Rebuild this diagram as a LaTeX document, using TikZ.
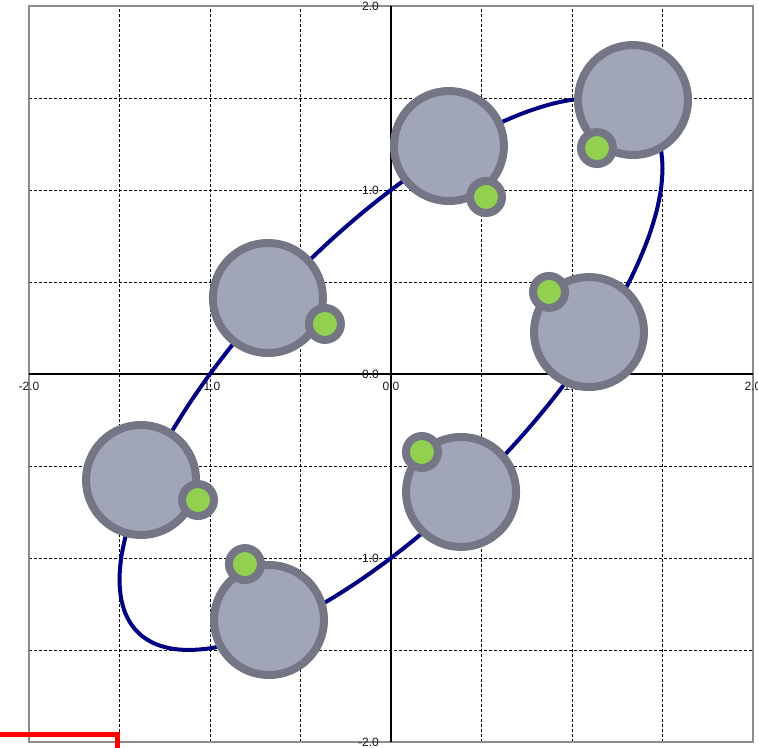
\documentclass[tikz,border=0pt]{standalone}
\usepackage{fontspec}
\setmainfont{Liberation Sans}
\definecolor{orbitblue}{RGB}{0, 0, 128}
\definecolor{bodyfill}{RGB}{161, 165, 184}
\definecolor{bodyrim}{RGB}{116, 118, 133}
\definecolor{moongreen}{RGB}{146, 208, 80}
\definecolor{framegray}{RGB}{140, 140, 140}
\usepackage{tikz}

\begin{document}
\begin{tikzpicture}[x=181pt, y=184pt, every node/.style={font=\fontsize{12}{12}\selectfont, text=black!90, inner sep=0pt}]
        \clip (-2.1602,-2.0272) rectangle (2.0276,2.0326);
        % dashed grid
        \foreach \v in {-1.5,-1,-0.5,0.5,1,1.5} {
          \draw[line width=0.9pt, dash pattern=on 3pt off 2pt] (\v,-2) -- (\v,2);
          \draw[line width=0.9pt, dash pattern=on 3pt off 2pt] (-2,\v) -- (2,\v);
        }
        % frame
        \draw[framegray, line width=2pt] (-2,-2) rectangle (2,2);
        % axes
        \draw[line width=1.8pt] (-2,0) -- (2,0);
        \draw[line width=2.8pt] (0,-2) -- (0,2);
        % tick labels
        \foreach \v [count=\i] in {-2.0,-1.0,0.0,1.0,2.0} {
          \node[anchor=north, yshift=-8pt] (xtick\i) at (\v,0) {\v};
          \node[anchor=east, xshift=-12pt] (ytick\i) at (0,\v) {\v};
        }
        % orbit
        \draw[orbitblue, line width=4pt] plot[smooth cycle, domain=0:354, samples=60] ({1.5*cos(\x)}, {1.5*cos(\x-41.81)});
        % bodies with their moons
        \foreach \bx/\by/\sx/\sy in {0.320/1.239/0.525/0.962, 1.337/1.489/1.138/1.228,
            -0.680/0.413/-0.365/0.272, 1.094/0.228/0.873/0.446,
            -1.381/-0.576/-1.066/-0.685, 0.387/-0.641/0.171/-0.424,
            -0.674/-1.337/-0.807/-1.033} {
          \draw[bodyrim, fill=bodyfill, line width=8pt] (\bx,\by) circle[radius=55pt];
          \draw[bodyrim, fill=moongreen, line width=8pt] (\sx,\sy) circle[radius=16pt];
        }
        % red box corner
        \draw[red, line width=5pt] (-2.3,-1.9565) -| (-1.511,-2.2);
      \end{tikzpicture}
\end{document}
